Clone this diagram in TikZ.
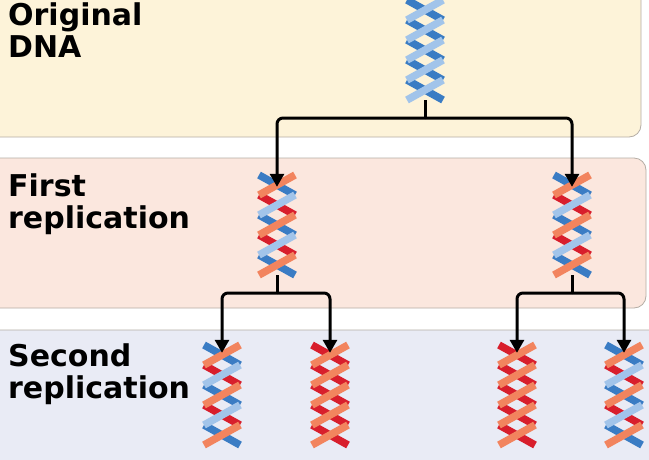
\documentclass[tikz,border=0pt]{standalone}
\usepackage{fontspec}
\setmainfont{DejaVu Sans}
\usetikzlibrary{arrows.meta}
\definecolor{bD}{HTML}{3A7CC4}
\definecolor{bL}{HTML}{A2C4EA}
\definecolor{rD}{HTML}{D81E2C}
\definecolor{rL}{HTML}{F2845E}
\definecolor{pY}{HTML}{FDF3D9}
\definecolor{pP}{HTML}{FBE7DE}
\definecolor{pB}{HTML}{E9EBF5}
\definecolor{edge}{HTML}{B5ADA5}
\tikzset{
 panel/.style={draw=edge,line width=0.8pt,rounded corners=12pt},
 lbl/.style={anchor=north west,align=left,font=\fontsize{30}{32}\selectfont\bfseries,inner sep=0pt},
 conn/.style={line width=3pt,rounded corners=6pt,-{Triangle[length=13pt,width=14pt]}},
 stem/.style={line width=3pt},
 rib/.style={line width=7.5pt,line cap=butt},
 hbox/.style={minimum width=40pt,minimum height=100pt,inner sep=0pt}
}
% \helix{name}{cx}{top}{s1dark}{s1light}{s2dark}{s2light}
\newcommand{\helix}[7]{%
 \node[hbox] (#1) at (#2,#3+50) {};
 \foreach \k in {0,...,4}{
  \pgfmathsetmacro{\ya}{#3+\k*20}
  \pgfmathsetmacro{\yb}{#3+(\k+1)*20}
  \ifodd\k
   \draw[rib,#6] (#2-18,\ya) -- (#2+18,\yb);
  \else
   \draw[rib,#4] (#2-18,\ya) -- (#2+18,\yb);
  \fi}
 \foreach \k in {0,...,4}{
  \pgfmathsetmacro{\ya}{#3+\k*20}
  \pgfmathsetmacro{\yb}{#3+(\k+1)*20}
  \ifodd\k
   \draw[rib,#5] (#2+18,\ya) -- (#2-18,\yb);
  \else
   \draw[rib,#7] (#2+18,\ya) -- (#2-18,\yb);
  \fi}
}
\begin{document}
\begin{tikzpicture}[x=1pt,y=-1pt]
\useasboundingbox (0,0) rectangle (649,459);
\begin{scope}
\clip (0,0) rectangle (649,459);
\fill[white] (0,0) rectangle (649,459);
\draw[panel,fill=pY] (-20,-20) rectangle (641,137);
\draw[panel,fill=pP] (-20,158) rectangle (646,308);
\draw[panel,fill=pB] (-20,330) rectangle (670,480);
\end{scope}
\node[lbl] (t1) at (8,3) {Original\\DNA};
\node[lbl] (t2) at (8,174) {First\\replication};
\node[lbl] (t3) at (8,343) {Second\\replication};

\helix{h0}{425}{0}{bD}{bL}{bD}{bL}
\helix{h1}{277}{175}{bD}{bL}{rD}{rL}
\helix{h2}{572}{175}{bD}{bL}{rD}{rL}
\helix{h3}{222}{345}{bD}{bL}{rD}{rL}
\helix{h4}{330}{345}{rD}{rL}{rD}{rL}
\helix{h5}{517}{345}{rD}{rL}{rD}{rL}
\helix{h6}{624}{345}{bD}{bL}{rD}{rL}

\coordinate (b0) at (425,118);
\coordinate (b1) at (277,293);
\coordinate (b2) at (572,293);
\draw[stem] (h0.south) -- (b0);
\draw[stem] (h1.south) -- (b1);
\draw[stem] (h2.south) -- (b2);
\draw[conn] (b0) -| ([yshift=-12pt]h1.north);
\draw[conn] (b0) -| ([yshift=-12pt]h2.north);
\draw[conn] (b1) -| ([yshift=-8pt]h3.north);
\draw[conn] (b1) -| ([yshift=-8pt]h4.north);
\draw[conn] (b2) -| ([yshift=-8pt]h5.north);
\draw[conn] (b2) -| ([yshift=-8pt]h6.north);
\end{tikzpicture}
\end{document}
